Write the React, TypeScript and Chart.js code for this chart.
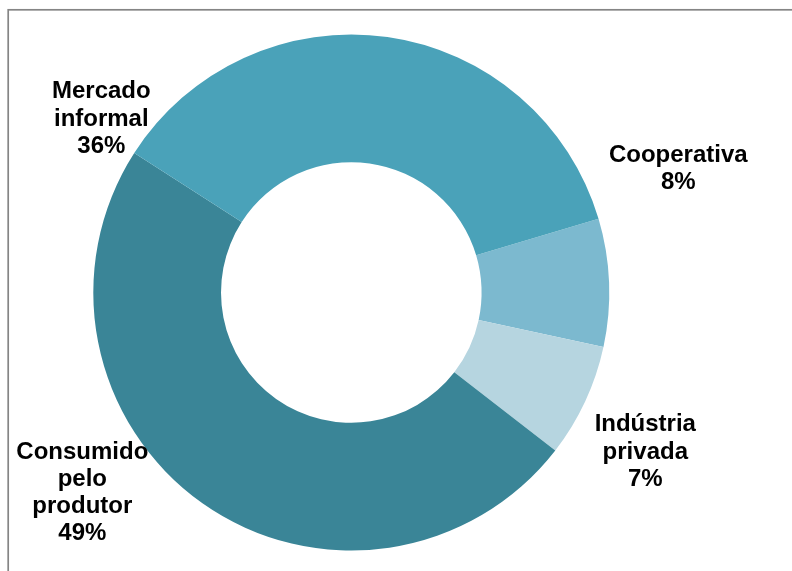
import { useEffect, useRef } from 'react'
import { Chart, registerables } from 'chart.js'

Chart.register(...registerables)

// categories, clockwise from the Mercado/Cooperativa boundary
const categories = [['Cooperativa'], ['Indústria', 'privada'], ['Consumido', 'pelo', 'produtor'], ['Mercado', 'informal']]
const shares = [8.0, 7.1, 48.6, 36.3]
const colors = ['#7cb9cf', '#b6d5e0', '#3a8597', '#4aa2b9']

// label block centre, offset from the doughnut centre (px)
const labelOffsets = [
  [327, -117],
  [294, 166],
  [-269, 207],
  [-250, -167],
]

const labelPlugin = {
  id: 'sliceLabels',
  beforeDraw(chart: Chart) {
    const ctx = chart.ctx
    ctx.save()
    ctx.strokeStyle = '#858585'
    ctx.lineWidth = 1.7
    ctx.strokeRect(8.2, 9.8, chart.width + 20, chart.height + 20)
    ctx.restore()
  },
  afterDraw(chart: Chart) {
    const ctx = chart.ctx
    const arc: any = chart.getDatasetMeta(0).data[0]
    if (!arc) return
    const cx = arc.x
    const cy = arc.y
    const total = shares.reduce((a, b) => a + b, 0)
    const lh = 27.3
    ctx.save()
    ctx.font = "bold 24px 'Liberation Sans', Arial, sans-serif"
    ctx.fillStyle = '#000'
    ctx.textAlign = 'center'
    ctx.textBaseline = 'alphabetic'
    categories.forEach((lines, i) => {
      const all = [...lines, Math.round((shares[i] / total) * 100) + '%']
      const mx = cx + labelOffsets[i][0]
      const my = cy + labelOffsets[i][1]
      const first = my - ((all.length - 1) / 2) * lh
      all.forEach((t, j) => ctx.fillText(t, mx, first + j * lh))
    })
    ctx.restore()
  },
}

export default function App() {
  const canvasRef = useRef<HTMLCanvasElement>(null)

  useEffect(() => {
    if (!canvasRef.current) return
    const chart = new Chart(canvasRef.current, {
      type: 'doughnut',
      data: {
        labels: categories,
        datasets: [
          {
            data: shares,
            backgroundColor: colors,
            borderWidth: 0,
          },
        ],
      },
      options: {
        animation: false,
        responsive: false,
        cutout: '50.5%',
        rotation: 73.4,
        layout: { padding: { left: 93.3, right: 182.7, top: 34.5, bottom: 20.5 } },
        plugins: {
          legend: { display: false },
          tooltip: { enabled: false },
        },
      },
      plugins: [labelPlugin],
    })
    return () => chart.destroy()
  }, [])

  return (
    <div style={{ position: 'fixed', left: 0, top: 0, width: 792, height: 571, background: '#fff' }}>
      <canvas ref={canvasRef} width={792} height={571} />
    </div>
  )
}
